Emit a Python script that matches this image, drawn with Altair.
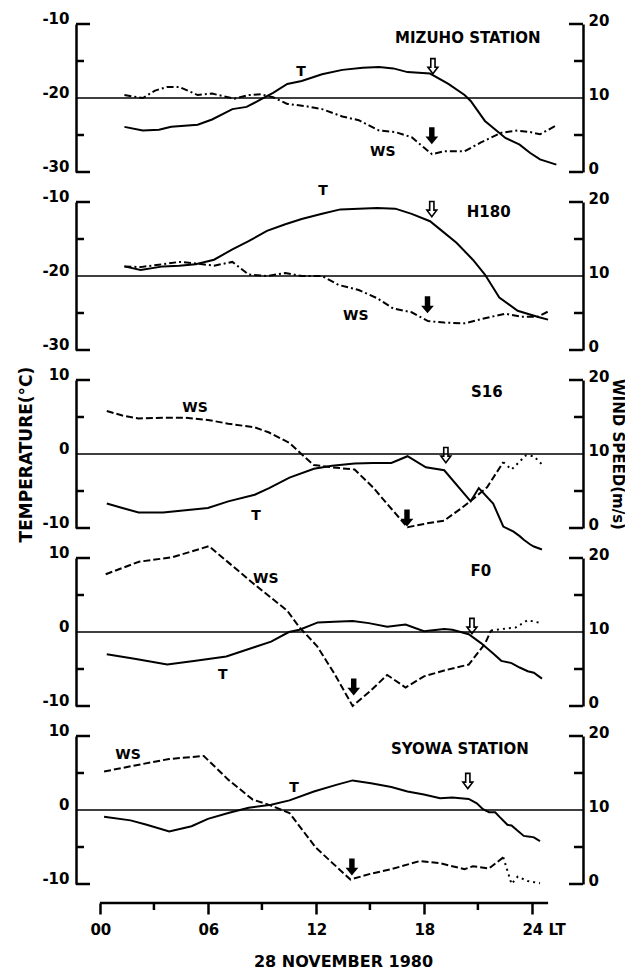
import altair as alt
import pandas as pd

FONT = "DejaVu Sans"
W, H = 507, 148
X_DOMAIN = [-1.33, 26.84]

# ---------------- data (hours LT, temperature degC, wind speed m/s) ----------------
mizuho_t_hour = [1.36, 2.38, 3.28, 3.96, 5.43, 6.23, 7.36, 8.15, 8.94, 9.62, 10.41, 11.21, 12.34, 13.47,
                 14.60, 15.51, 16.30, 17.09, 18.34, 19.36, 20.26, 20.60, 21.39, 22.53, 23.32, 23.89, 24.45, 25.36]
mizuho_t = [-23.9, -24.4, -24.3, -23.9, -23.6, -22.9, -21.5, -21.2, -20.2, -19.3, -18.1, -17.7, -16.8, -16.2,
            -15.9, -15.8, -16.0, -16.5, -16.7, -18.1, -19.6, -20.4, -23.1, -25.4, -26.3, -27.4, -28.3, -29.0]
mizuho_ws_hour = [1.36, 2.38, 3.06, 3.74, 4.41, 5.43, 6.23, 7.47, 8.26, 8.94, 9.62, 10.41, 11.43, 12.34, 13.47,
                  14.38, 15.51, 16.41, 17.32, 18.0, 18.45, 19.13, 20.26, 21.17, 22.3, 23.2, 23.89, 24.45, 25.36]
mizuho_ws = [10.4, 10.0, 11.0, 11.5, 11.5, 10.4, 10.6, 9.9, 10.4, 10.5, 10.1, 9.2, 8.9, 8.5, 7.5,
             7.0, 5.6, 5.4, 4.7, 3.3, 2.4, 2.8, 2.8, 4.0, 5.3, 5.6, 5.4, 5.1, 6.3]

h180_t_hour = [1.36, 2.26, 3.51, 4.41, 5.32, 6.34, 7.36, 8.26, 9.28, 10.30, 11.21, 12.34, 13.36, 14.38,
               15.40, 16.41, 17.32, 18.34, 18.90, 19.81, 20.72, 21.39, 22.19, 23.21, 23.89, 24.45, 24.90]
h180_t = [-18.7, -19.2, -18.7, -18.6, -18.4, -17.8, -16.4, -15.3, -13.9, -13.0, -12.3, -11.6, -11.0, -10.9,
          -10.8, -10.9, -11.6, -12.6, -13.7, -15.5, -17.8, -19.8, -22.9, -24.7, -25.2, -25.6, -25.9]
h180_ws_hour = [1.36, 2.26, 3.51, 4.41, 5.32, 6.34, 7.36, 8.26, 9.28, 10.30, 11.21, 12.34, 13.25, 14.38,
                15.40, 16.30, 17.32, 18.23, 19.13, 20.26, 21.39, 22.53, 23.43, 24.34, 24.90]
h180_ws = [11.3, 11.2, 11.6, 11.9, 11.7, 11.4, 11.9, 10.2, 10.0, 10.4, 10.0, 10.0, 8.8, 8.1,
           7.0, 5.6, 5.1, 3.9, 3.7, 3.6, 4.3, 4.9, 4.5, 4.5, 5.2]

s16_t_hour = [0.38, 1.25, 2.15, 3.51, 4.75, 6.0, 7.13, 8.60, 9.40, 10.53, 11.89, 12.90, 14.15, 15.17,
              16.19, 17.09, 18.11, 19.13, 20.6, 21.05, 21.85, 22.41, 22.98, 23.32, 23.55, 23.89, 24.11, 24.56]
s16_t = [-6.7, -7.3, -7.9, -7.9, -7.6, -7.3, -6.4, -5.5, -4.6, -3.2, -2.0, -1.6, -1.3, -1.2,
         -1.2, -0.3, -1.8, -2.2, -6.4, -4.6, -6.7, -9.8, -10.5, -11.1, -11.6, -12.2, -12.5, -12.9]
s16_ws_hour = [0.38, 1.25, 2.15, 3.51, 4.75, 6.0, 7.13, 8.60, 9.40, 10.53, 11.32, 11.89, 12.90, 14.15,
               15.17, 16.19, 17.09, 18.11, 19.13, 20.04, 20.72, 21.51, 22.41]
s16_ws = [15.8, 15.2, 14.8, 14.9, 14.9, 14.6, 14.1, 13.6, 12.9, 11.5, 9.7, 8.5, 8.2, 7.9,
          5.5, 2.6, 0.1, 0.6, 1.0, 2.6, 3.9, 5.5, 8.9]
s16_ws_dot_hour = [22.41, 22.87, 23.66, 24.11, 24.56]
s16_ws_dot = [8.9, 7.9, 9.8, 9.7, 8.6]

f0_t_hour = [0.38, 1.92, 3.74, 5.32, 7.02, 8.65, 9.51, 10.5, 11.09, 12.11, 13.02, 14.04, 14.94, 15.96,
             16.98, 18.0, 19.13, 19.58, 20.49, 21.17, 21.85, 22.30, 22.87, 23.32, 23.77, 24.11, 24.56]
f0_t = [-3.0, -3.6, -4.4, -3.9, -3.3, -2.0, -1.3, 0.0, 0.3, 1.3, 1.4, 1.5, 1.2, 0.7,
        1.0, 0.1, 0.4, 0.3, -0.3, -1.5, -2.9, -3.9, -4.2, -4.8, -5.3, -5.5, -6.3]
f0_ws_hour = [0.32, 2.17, 4.02, 6.06, 8.65, 10.4, 11.06, 12.06, 13.02, 14.04, 15.06, 15.96, 16.98,
              18.0, 19.13, 20.49, 21.39, 21.73]
f0_ws = [17.8, 19.5, 20.1, 21.6, 16.3, 12.9, 10.7, 8.1, 4.4, 0.0, 2.1, 4.2, 2.5, 4.0, 4.8, 5.6, 8.4, 10.2]
f0_ws_dot_hour = [21.73, 22.30, 23.09, 23.77, 24.11, 24.56]
f0_ws_dot = [10.2, 10.4, 10.6, 11.6, 11.4, 11.2]

syowa_t_hour = [0.23, 1.70, 2.60, 3.85, 5.09, 6.0, 7.13, 8.26, 9.51, 10.53, 11.89, 13.13, 14.04, 15.06,
                16.19, 17.09, 18.0, 18.90, 19.58, 20.49, 20.94, 21.28, 21.62, 21.96, 22.19, 22.64, 22.87,
                23.21, 23.55, 23.89, 24.11, 24.45]
syowa_t = [-0.9, -1.4, -2.0, -2.9, -2.2, -1.2, -0.4, 0.3, 0.7, 1.3, 2.5, 3.4, 4.0, 3.6,
           3.1, 2.5, 2.1, 1.6, 1.7, 1.5, 0.9, 0.1, -0.3, -0.3, -0.9, -2.0, -2.1,
           -2.8, -3.5, -3.6, -3.7, -4.2]
syowa_ws_hour = [0.23, 1.70, 3.85, 5.77, 7.13, 8.49, 9.40, 10.53, 12.0, 13.92, 15.06, 16.19, 17.77,
                 18.90, 20.26, 20.72, 21.62, 22.41]
syowa_ws = [15.2, 15.9, 16.9, 17.3, 14.1, 11.4, 10.7, 9.6, 4.9, 0.6, 1.4, 2.0, 3.1, 2.8, 2.0, 2.4, 2.1, 3.6]
syowa_ws_dot_hour = [22.41, 22.87, 23.21, 23.77, 24.45]
syowa_ws_dot = [3.6, 0.0, 1.0, 0.4, 0.1]

# axis values
temp_ticks_upper = [-10, -20, -30]
temp_ticks_lower = [10, 0, -10]
ws_ticks = [20, 10, 0]
hour_ticks = [0, 6, 12, 18, 24]
hour_minor = [3, 9, 15, 21]
hour_labels = ["00", "06", "12", "18", "24 LT"]
axis_end_hour = 24.9

FILLED_ARROW = "M-0.32,-1L0.32,-1L0.32,0.1L0.75,0.1L0,1L-0.75,0.1L-0.32,0.1Z"
OPEN_ARROW = "M-0.28,-1L0.28,-1L0.28,0.15L0.65,0.15L0,1L-0.65,0.15L-0.28,0.15Z"
DASH_DOT = [7, 3, 2, 3]
DASH = [7, 3]

panels = [
    dict(name="MIZUHO STATION", name_pos=(20.44, -11.9), t_dom=[-30, -10], t_labels=temp_ticks_upper,
         t_mid=-20, t_minor=[-15, -25], t_hour=mizuho_t_hour, t=mizuho_t,
         ws_hour=mizuho_ws_hour, ws=mizuho_ws, dot_hour=None, dot=None, dash=DASH_DOT,
         t_lab=(11.17, -16.5), ws_lab=(15.72, 2.7), open_arrow=(18.5, -15.7), fill_arrow=(18.44, 4.9)),
    dict(name="H180", name_pos=(21.6, -11.35), t_dom=[-30, -10], t_labels=temp_ticks_upper,
         t_mid=-20, t_minor=[-15, -25], t_hour=h180_t_hour, t=h180_t,
         ws_hour=h180_ws_hour, ws=h180_ws, dot_hour=None, dot=None, dash=DASH_DOT,
         t_lab=(12.39, -8.5), ws_lab=(14.22, 4.6), open_arrow=(18.44, -10.95), fill_arrow=(18.2, 6.1)),
    dict(name="S16", name_pos=(21.5, 8.38), t_dom=[-10, 10], t_labels=temp_ticks_lower,
         t_mid=0, t_minor=[5, -5], t_hour=s16_t_hour, t=s16_t,
         ws_hour=s16_ws_hour, ws=s16_ws, dot_hour=s16_ws_dot_hour, dot=s16_ws_dot, dash=DASH,
         t_lab=(8.67, -8.38), ws_lab=(5.28, 16.2), open_arrow=(19.22, -0.14), fill_arrow=(17.06, 1.35)),
    dict(name="F0", name_pos=(21.17, 8.24), t_dom=[-10, 10], t_labels=temp_ticks_lower,
         t_mid=0, t_minor=[5, -5], t_hour=f0_t_hour, t=f0_t,
         ws_hour=f0_ws_hour, ws=f0_ws, dot_hour=f0_ws_dot_hour, dot=f0_ws_dot, dash=DASH,
         t_lab=(6.83, -5.81), ws_lab=(9.22, 17.2), open_arrow=(20.67, 0.81), fill_arrow=(14.1, 2.57)),
    dict(name="SYOWA STATION", name_pos=(20.0, 8.24), t_dom=[-10, 10], t_labels=temp_ticks_lower,
         t_mid=0, t_minor=[5, -5], t_hour=syowa_t_hour, t=syowa_t,
         ws_hour=syowa_ws_hour, ws=syowa_ws, dot_hour=syowa_ws_dot_hour, dot=syowa_ws_dot, dash=DASH,
         t_lab=(10.78, 2.97), ws_lab=(1.56, 17.4), open_arrow=(20.44, 3.92), fill_arrow=(14.0, 2.3)),
]

xscale = alt.Scale(domain=X_DOMAIN, nice=False, zero=False)


def make_panel(p, left_title=None, right_title=None, bottom=False):
    ts = alt.Scale(domain=p["t_dom"], nice=False, zero=False)
    wss = alt.Scale(domain=[0, 20], nice=False, zero=False)

    left_axis = alt.Axis(values=p["t_labels"], labelExpr="'' + datum.value", ticks=False, domain=True,
                         domainWidth=2.5, domainColor="black", labelFont=FONT, labelFontWeight="bold",
                         labelFontSize=15, labelColor="black", labelPadding=7, labelOffset=-6,
                         labelOverlap=False, grid=False, title=left_title, titleFont=FONT,
                         titleFontSize=17, titleFontWeight="bold", titleColor="black",
                         titlePadding=6)
    right_axis = alt.Axis(values=ws_ticks, ticks=False, domain=True, domainWidth=2.5,
                          domainColor="black", orient="right", labelFont=FONT,
                          labelFontWeight="bold", labelFontSize=15, labelColor="black",
                          labelPadding=5, labelOffset=-4, labelOverlap=False, grid=False,
                          title=right_title, titleFont=FONT, titleFontSize=15,
                          titleFontWeight="bold", titleColor="black", titlePadding=1)
    if bottom:
        xaxis = alt.Axis(values=hour_ticks,
                         labelExpr="[" + ",".join(f"'{s}'" for s in hour_labels) + "][datum.value/6]",
                         offset=19, domain=False, ticks=True, tickSize=11, tickWidth=2.5,
                         tickColor="black", labelFont=FONT, labelFontWeight="bold", labelFontSize=15,
                         labelColor="black", labelAlign="left", labelOffset=-10, labelPadding=8,
                         labelFlush=False, labelOverlap=False, grid=False,
                         title="28 NOVEMBER 1980", titleFont=FONT, titleFontSize=16,
                         titleFontWeight="bold", titleColor="black", titlePadding=16, titleX=267)
    else:
        xaxis = None

    def X(field="h"):
        return alt.X(f"{field}:Q", scale=xscale, axis=xaxis)

    def YT():
        return alt.Y("v:Q", scale=ts, axis=left_axis)

    def YW():
        return alt.Y("v:Q", scale=wss, axis=right_axis)

    def text_chart(pos, label, yenc, size=14):
        d = pd.DataFrame({"h": [pos[0]], "v": [pos[1]], "s": [label]})
        return alt.Chart(d).mark_text(font=FONT, fontWeight="bold", fontSize=size, color="black",
                                      align="center", baseline="middle").encode(
            x=X(), y=yenc, text="s:N")

    ref = alt.Chart(pd.DataFrame({"v": [p["t_mid"]]})).mark_rule(color="black", strokeWidth=1.3).encode(
        y=YT(), x=alt.value(0), x2=alt.value(W))
    t_major = alt.Chart(pd.DataFrame({"v": p["t_dom"]})).mark_rule(color="black", strokeWidth=2.5).encode(
        y=YT(), x=alt.value(0), x2=alt.value(14))
    t_minor = alt.Chart(pd.DataFrame({"v": p["t_minor"]})).mark_rule(color="black", strokeWidth=2.5).encode(
        y=YT(), x=alt.value(0), x2=alt.value(8))
    t_line = alt.Chart(pd.DataFrame({"h": p["t_hour"], "v": p["t"]})).mark_line(
        color="black", strokeWidth=2).encode(x=X(), y=YT())
    oa = alt.Chart(pd.DataFrame({"h": [p["open_arrow"][0]], "v": [p["open_arrow"][1]]})).mark_point(
        shape=OPEN_ARROW, filled=False, color="black", strokeWidth=1.6, size=230, opacity=1).encode(
        x=X(), y=YT())
    t_layers = [ref, t_major, t_minor, t_line, oa,
                text_chart(p["name_pos"], p["name"], YT(), size=15),
                text_chart(p["t_lab"], "T", YT())]

    if bottom:
        xline = alt.Chart(pd.DataFrame({"h": [0], "h2": [axis_end_hour]})).mark_rule(
            color="black", strokeWidth=2.5).encode(x=X(), x2="h2:Q", y=alt.value(H + 19))
        xminor = alt.Chart(pd.DataFrame({"h": hour_minor})).mark_rule(color="black", strokeWidth=2.5).encode(
            x=X(), y=alt.value(H + 19), y2=alt.value(H + 26))
        t_layers += [xline, xminor]

    ws_line = alt.Chart(pd.DataFrame({"h": p["ws_hour"], "v": p["ws"]})).mark_line(
        color="black", strokeWidth=2, strokeDash=p["dash"]).encode(x=X(), y=YW())
    w_major = alt.Chart(pd.DataFrame({"v": [0, 20]})).mark_rule(color="black", strokeWidth=2.5).encode(
        y=YW(), x=alt.value(W - 14), x2=alt.value(W))
    w_minor = alt.Chart(pd.DataFrame({"v": [5, 15]})).mark_rule(color="black", strokeWidth=2.5).encode(
        y=YW(), x=alt.value(W - 9), x2=alt.value(W))
    fa = alt.Chart(pd.DataFrame({"h": [p["fill_arrow"][0]], "v": [p["fill_arrow"][1]]})).mark_point(
        shape=FILLED_ARROW, filled=True, color="black", size=290, opacity=1).encode(x=X(), y=YW())
    ws_layers = [ws_line, w_major, w_minor, fa, text_chart(p["ws_lab"], "WS", YW())]
    if p["dot_hour"]:
        ws_layers.append(alt.Chart(pd.DataFrame({"h": p["dot_hour"], "v": p["dot"]})).mark_line(
            color="black", strokeWidth=2, strokeDash=[2, 4]).encode(x=X(), y=YW()))

    return alt.layer(alt.layer(*t_layers), alt.layer(*ws_layers)).resolve_scale(
        y="independent").properties(width=W, height=H)


charts = []
for i, p in enumerate(panels):
    charts.append(make_panel(
        p,
        left_title="TEMPERATURE(°C)" if i == 2 else None,
        right_title="WIND SPEED(m/s)" if i == 2 else None,
        bottom=(i == 4)))

chart = alt.vconcat(*charts, spacing=30, bounds="flush").properties(
    padding={"left": 9, "top": 3, "right": 0, "bottom": 0}
).configure_view(stroke=None)

chart.save("out.html", embed_options={"renderer": "svg", "actions": False})
